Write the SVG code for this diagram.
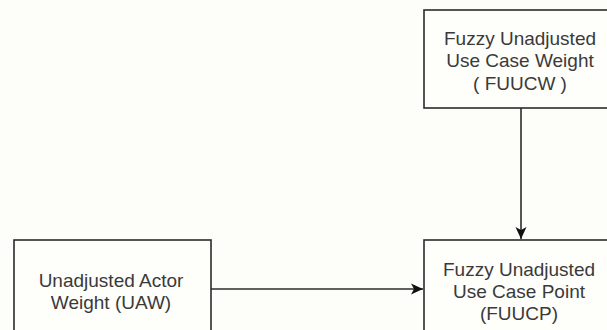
<svg xmlns="http://www.w3.org/2000/svg" width="607" height="330" viewBox="0 0 607 330">
  <defs>
    <style>
      .box { fill: #fefefb; stroke: #2b2b2b; stroke-width: 1.6; }
      .lbl { font-family: "Liberation Sans", Arial, sans-serif; font-size: 19px; fill: #3a3a3a; text-anchor: middle; }
      .edge { fill: none; stroke: #2b2b2b; stroke-width: 1.6; }
    </style>
    <marker id="arrow" viewBox="0 0 12 12" refX="12" refY="6" markerWidth="12" markerHeight="12" markerUnits="userSpaceOnUse" orient="auto">
      <path d="M0,0.5 L12,6 L0,11.5 L3,6 Z" fill="#111"/>
    </marker>
  </defs>

  <rect x="0" y="0" width="607" height="330" fill="#fdfdf9"/>

  <g id="fuucw">
    <rect class="box" x="424" y="10" width="194" height="98"/>
    <text class="lbl" x="520" y="44.5">Fuzzy Unadjusted</text>
    <text class="lbl" x="520" y="67">Use Case Weight</text>
    <text class="lbl" x="520" y="90">( FUUCW )</text>
  </g>

  <g id="uaw">
    <rect class="box" x="14" y="240" width="197" height="100"/>
    <text class="lbl" x="111" y="287">Unadjusted Actor</text>
    <text class="lbl" x="111" y="309">Weight (UAW)</text>
  </g>

  <g id="fuucp">
    <rect class="box" x="424" y="240" width="194" height="100"/>
    <text class="lbl" x="519" y="275.5">Fuzzy Unadjusted</text>
    <text class="lbl" x="519" y="297.5">Use Case Point</text>
    <text class="lbl" x="519" y="319.5">(FUUCP)</text>
  </g>

  <g id="connectors">
    <line class="edge" x1="521" y1="108" x2="521" y2="239" marker-end="url(#arrow)"/>
    <line class="edge" x1="211" y1="289" x2="423" y2="289" marker-end="url(#arrow)"/>
  </g>
</svg>
